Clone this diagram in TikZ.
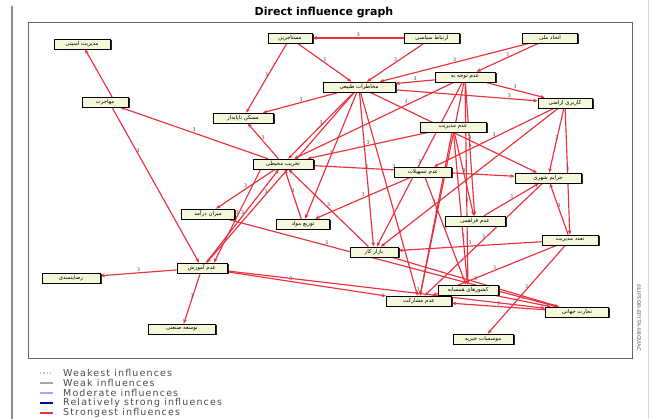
\documentclass[tikz,border=0pt]{standalone}
\usepackage{fontspec}
\usetikzlibrary{arrows.meta,positioning,shadows,backgrounds}
\newfontfamily\arabicfont[Script=Arabic]{DejaVu Sans}
\newfontfamily\legendfont[LetterSpace=12]{DejaVu Sans}
\newfontfamily\titlefont{DejaVu Sans}
\TeXXeTstate=1
\definecolor{inflred}{RGB}{236,48,60}
\definecolor{boxfill}{RGB}{246,248,220}
\tikzset{
  >={Stealth[length=4.5pt,width=3.6pt]},
  factor/.style={
    draw, rectangle, fill=boxfill, line width=0.6pt, inner sep=1pt,
    minimum height=10pt, minimum width=#1, font=\arabicfont\fontsize{5.5}{6}\selectfont,
    drop shadow={shadow xshift=1.5pt, shadow yshift=-1.5pt, fill=black!85, opacity=1}
  },
  factor/.default=55pt,
  infl/.style={->, draw=inflred, line width=1.15pt},
  wt/.style={font=\sffamily\fontsize{5.5}{5.5}\selectfont, text=black!70, inner sep=0.8pt, above},
  legline/.style={line width=1.3pt},
  legtxt/.style={anchor=west, inner sep=0pt, text=black!70, font=\legendfont\fontsize{9.5}{9.5}\selectfont},
}

\begin{document}
\begin{tikzpicture}[x=1pt, y=-1pt]
  \useasboundingbox (0,0) rectangle (654,419);
  \draw[black!45, line width=2.2pt] (12,6) -- (12,419);
  \draw[black!15, line width=0.6pt] (648,0) -- (648,419);
  \draw[black!60, line width=1pt] (28,23) rectangle (632,359);
  \node[font=\titlefont\bfseries\fontsize{11}{13}\selectfont] (title) at (324,13) {Direct influence graph};

  \node[factor=56pt] (n1) at (82,44) {\beginR مدیریت امنیتی\endR};
  \node[factor=44pt] (n2) at (290,38) {\beginR مستاجرین\endR};
  \node[factor=55pt] (n3) at (432,38) {\beginR ارتباط سیاسی\endR};
  \node[factor=55pt] (n4) at (550,38) {\beginR اتحاد ملی\endR};
  \node[factor=60pt] (n5) at (465,77) {\beginR عدم توجه به\endR};
  \node[factor=72pt] (n6) at (359,87) {\beginR مخاطرات طبیعی\endR};
  \node[factor=46pt] (n7) at (105,102) {\beginR مهاجرت\endR};
  \node[factor=60pt] (n8) at (243,118) {\beginR مسکن ناپایدار\endR};
  \node[factor=54pt] (n9) at (565,103) {\beginR کاربری اراضی\endR};
  \node[factor=66pt] (n10) at (453,127) {\beginR عدم مدیریت\endR};
  \node[factor=60pt] (n11) at (283,164) {\beginR تخریب محیطی\endR};
  \node[factor=57pt] (n12) at (423,172) {\beginR عدم تسهیلات\endR};
  \node[factor=66pt] (n13) at (548,178) {\beginR جرایم شهری\endR};
  \node[factor=53pt] (n14) at (208,214) {\beginR میزان درآمد\endR};
  \node[factor=53pt] (n15) at (303,224) {\beginR توزیع مواد\endR};
  \node[factor=60pt] (n16) at (475,221) {\beginR عدم فراهمی\endR};
  \node[factor=56pt] (n17) at (570,240) {\beginR تعدد مدیریت\endR};
  \node[factor=48pt] (n18) at (374,252) {\beginR بازار کار\endR};
  \node[factor=50pt] (n19) at (202,268) {\beginR عدم آموزش\endR};
  \node[factor=58pt] (n20) at (71,278) {\beginR رضایتمندی\endR};
  \node[factor=60pt] (n21) at (468,290) {\beginR کشورهای همسایه\endR};
  \node[factor=65pt] (n22) at (419,301) {\beginR عدم مشارکت\endR};
  \node[factor=63pt] (n23) at (577,312) {\beginR تجارت جهانی\endR};
  \node[factor=67pt] (n24) at (182,329) {\beginR توسعه صنعتی\endR};
  \node[factor=60pt] (n25) at (483,339) {\beginR موسسات خیریه\endR};

  \begin{scope}[on background layer]
    \fill[white] (0,0) rectangle (654,419);
    \draw[infl] (n3) -- node[wt]{3} (n2);
    \draw[infl] (n2) -- node[wt]{3} (n8);
    \draw[infl] (n2) -- node[wt]{3} (n6);
    \draw[infl] (n3) -- node[wt]{3} (n6);
    \draw[infl] (n4) -- node[wt]{3} (n6);
    \draw[infl] (n4) -- node[wt]{3} (n5);
    \draw[infl] (n5) -- node[wt]{3} (n6);
    \draw[infl] (n5) -- node[wt]{3} (n9);
    \draw[infl] (n6) -- node[wt, pos=.8]{3} (n9);
    \draw[infl] (n6) -- node[wt]{3} (n8);
    \draw[infl] (n11) -- node[wt]{3} (n8);
    \draw[infl] ([xshift=7pt]n7.north) -- (n1);
    \draw[infl] ([xshift=7pt]n7.south) -- node[wt, pos=.3]{3} (n19);
    \draw[infl] (n11) -- node[wt]{3} (n7);
    \draw[infl] (n11) -- node[wt]{3} (n14);
    \draw[infl] (n19) -- node[wt]{3} (n11);
    \draw[infl] ([xshift=8pt]n11.south west) -- node[wt]{3} ([xshift=12pt]n19.north);
    \draw[infl] (n6) -- node[wt]{3} (n11);
    \draw[infl] (n6) -- node[wt]{3} (n15);
    \draw[infl] (n6) -- node[wt]{3} (n18);
    \draw[infl] (n6) -- node[wt, pos=.6]{3} (n19);
    \draw[infl] (n6) -- node[wt, pos=.7]{3} (n22);
    \draw[infl] (n5) -- node[wt, pos=.3]{3} (n11);
    \draw[infl] (n5) -- node[wt]{3} (n18);
    \draw[infl] (n5) -- node[wt, pos=.6]{3} (n21);
    \draw[infl] (n5) -- node[wt, pos=.7]{3} (n22);
    \draw[infl] (n5) -- node[wt]{3} (n16);
    \draw[infl] (n10) -- node[wt]{3} (n16);
    \draw[infl] (n10) -- node[wt]{3} (n22);
    \draw[infl] (n10) -- node[wt]{3} (n11);
    \draw[infl] (n10) -- node[wt, pos=.7]{3} (n21);
    \draw[infl] (n9) -- node[wt]{3} (n13);
    \draw[infl] (n9) -- node[wt]{3} (n17);
    \draw[infl] (n9) -- node[wt, pos=.7]{3} (n18);
    \draw[infl] (n9) -- node[wt]{3} (n12);
    \draw[infl] (n12) -- node[wt]{3} (n15);
    \draw[infl] (n12) -- node[wt]{3} (n21);
    \draw[infl] (n17) -- node[wt]{3} (n13);
    \draw[infl] (n16) -- node[wt]{3} (n13);
    \draw[infl] (n17) -- node[wt]{3} (n18);
    \draw[infl] (n17) -- node[wt]{3} (n25);
    \draw[infl] (n17) -- node[wt]{3} (n22);
    \draw[infl] (n19) -- node[wt]{3} (n20);
    \draw[infl] (n19) -- node[wt]{3} (n24);
    \draw[infl] (n19) -- node[wt, pos=.4]{3} (n22);
    \draw[infl] (n19) -- node[wt, pos=.6]{3} (n23);
    \draw[infl] (n21) -- node[wt]{3} (n23);
    \draw[infl] (n23) -- node[wt]{3} (n22);
    \draw[infl] (n14) -- node[wt, pos=.3]{3} (n23);
    \draw[infl] (n11) -- node[wt, pos=.4]{3} (n13);
    \draw[infl] (n6) -- node[wt, pos=.6]{3} (n13);
    \draw[infl] (n15) -- node[wt]{3} (n11);
    \draw[infl] (n18) -- node[wt]{3} (n11);
    \draw[infl] (n13) -- node[wt]{3} (n22);
    \draw[infl] (n18) -- node[wt]{3} (n23);
  \end{scope}

  \coordinate (l1) at (40,373);
  \coordinate (l2) at (40,383);
  \coordinate (l3) at (40,393);
  \coordinate (l4) at (40,403);
  \coordinate (l5) at (40,413);
  \draw[legline, black!25, dotted] (l1) -- ++(13,0);
  \draw[legline, black!35] (l2) -- ++(13,0);
  \draw[legline, blue!35!white] (l3) -- ++(13,0);
  \draw[legline, blue!70!black] (l4) -- ++(13,0);
  \draw[legline, inflred] (l5) -- ++(13,0);
  \node[legtxt] (t1) at (63,373) {Weakest influences};
  \node[legtxt] (t2) at (63,383) {Weak influences};
  \node[legtxt] (t3) at (63,393) {Moderate influences};
  \node[legtxt] (t4) at (63,403) {Relatively strong influences};
  \node[legtxt] (t5) at (63,413) {Strongest influences};
  \node[rotate=-90, text=black!65, font=\sffamily\fontsize{5.5}{6}\selectfont] (copy) at (639,318) {\textcopyright LIPSOR-EPITA-MICMAC};
\end{tikzpicture}
\end{document}
